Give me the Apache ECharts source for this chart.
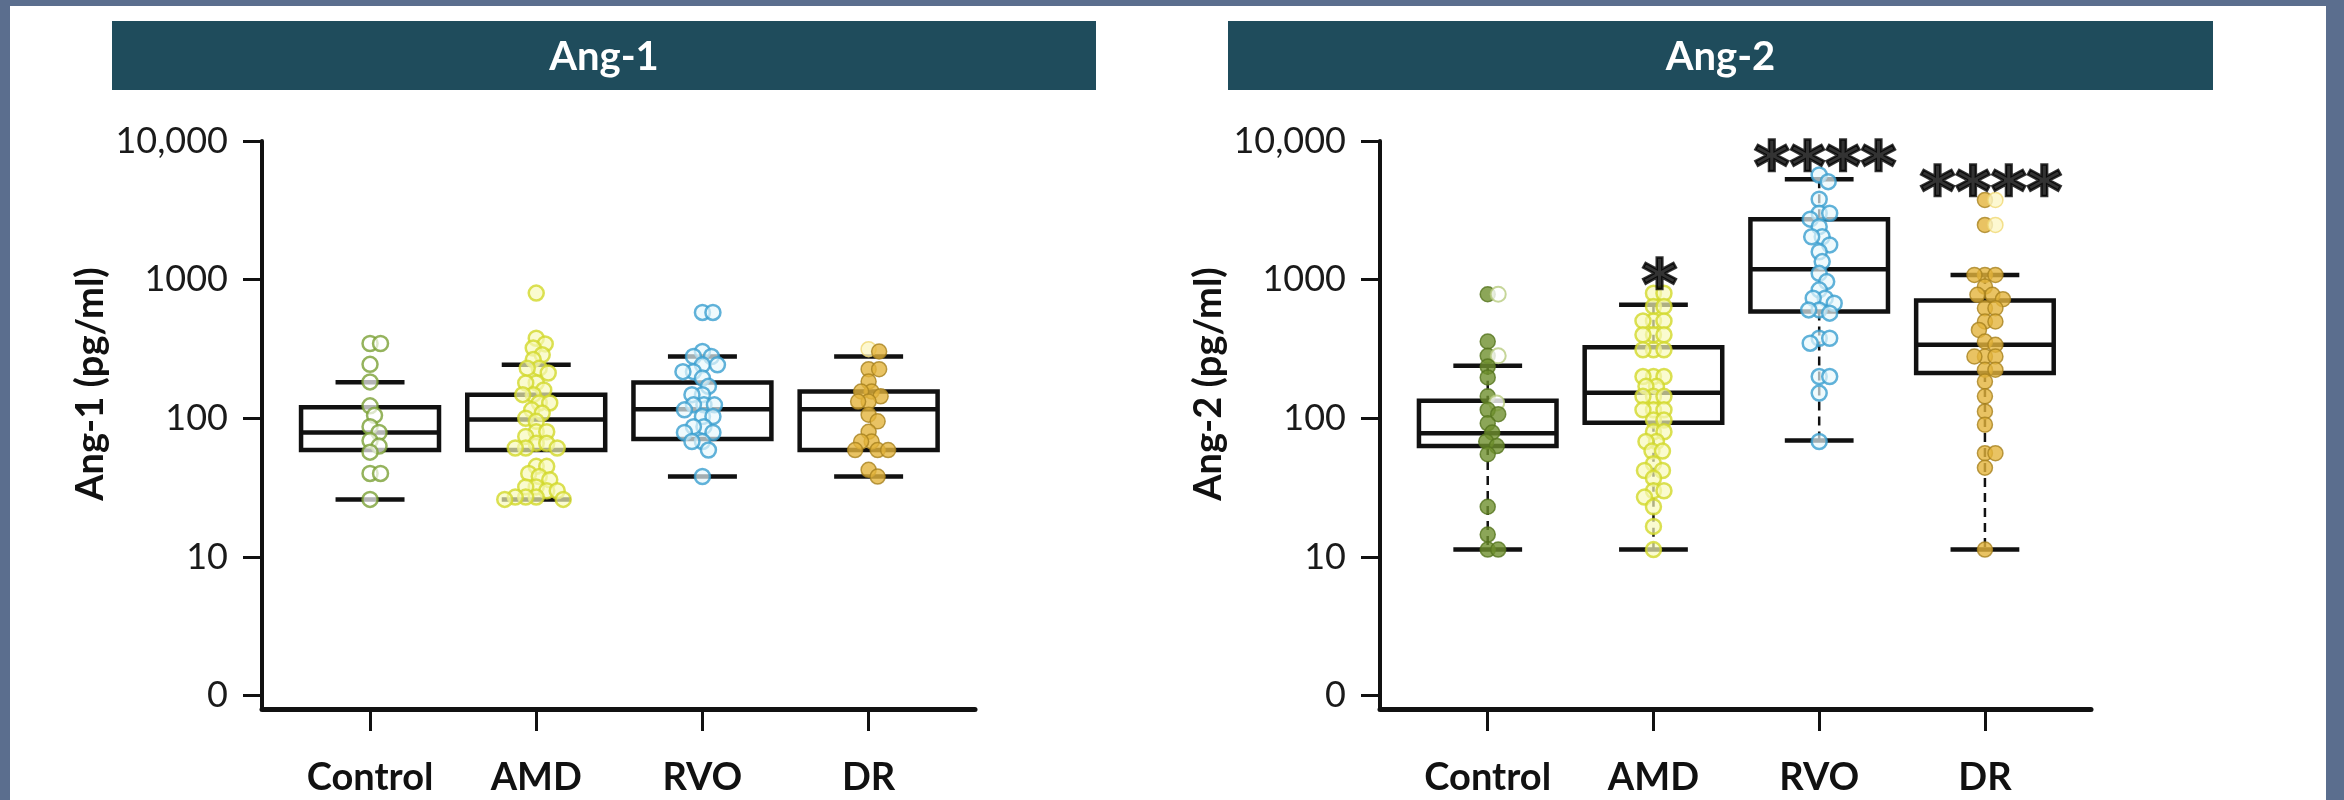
<!DOCTYPE html>
<html>
<head>
<meta charset="utf-8">
<title>Ang-1 / Ang-2</title>
<script src="https://cdn.jsdelivr.net/npm/echarts@6/dist/echarts.min.js"></script>
<style>
  html, body { margin: 0; padding: 0; background: #5b6e8e; }
  #paper { position: absolute; left: 10px; top: 6px; width: 2316px; height: 794px; background: #fff; }
  #chart { position: absolute; left: 0; top: 0; width: 2344px; height: 800px; }
</style>
</head>
<body>
<div id="paper"></div>
<div id="chart"></div>
<script>
// categories and axis ticks
const groups = ["Control", "AMD", "RVO", "DR"];
const yTickValues = [1, 10, 100, 1000, 10000];
const yTickLabels = ["0", "10", "100", "1000", "10,000"];

// box stats per group: [lower whisker, Q1, median, Q3, upper whisker] (pg/ml)
const ang1Box = [
  [26, 59, 79, 120, 182],
  [26, 59, 98, 148, 243],
  [38, 71, 116, 181, 279],
  [38, 59, 116, 156, 279],
];
const ang2Box = [
  [11.3, 63, 78, 134, 239],
  [11.3, 93, 153, 326, 658],
  [69, 589, 1189, 2728, 5296],
  [11.3, 212, 339, 706, 1082],
];

// individual samples, Ang-1
const ang1Control = [346, 346, 245, 183, 123, 105, 87, 79, 69, 63, 57, 40, 40, 26];
const ang1AMD = [800, 378, 344, 321, 287, 265, 230, 230, 212, 180, 180, 160, 148, 148, 129, 129, 115, 109, 100, 95,
  80, 80, 74, 66, 66, 61, 61, 61, 45, 45, 40, 38, 36, 32, 32, 30, 30, 27, 27, 27, 26, 26];
const ang1RVO = [580, 580, 303, 279, 279, 243, 243, 217, 217, 195, 170, 148, 148, 125, 125, 125, 115, 103, 103,
  87, 87, 79, 79, 68, 68, 59, 38];
const ang1DR = [303, 226, 226, 184, 156, 156, 144, 132, 132, 106, 95, 80, 68, 68, 59, 59, 59, 42.5, 38];
const ang1DRPale = [315];

// individual samples, Ang-2
const ang2Control = [785, 358, 282, 236, 197, 144, 115, 107, 92, 79, 68, 63, 55, 23, 14.5, 11.3, 11.3];
const ang2ControlOpen = [785, 282, 129];
const ang2AMD = [798, 798, 640, 640, 504, 504, 504, 400, 400, 400, 312, 312, 312, 200, 200, 200, 170, 170,
  144, 144, 144, 115, 115, 115, 97, 97, 80, 80, 68, 68, 58, 58, 47, 42, 42, 37, 30, 30, 27, 23, 16.6, 11.3];
const ang2RVO = [5690, 5090, 3800, 3010, 3010, 2730, 2410, 2040, 2040, 1780, 1590, 1350, 1110, 968, 844, 735,
  735, 676, 605, 605, 573, 378, 378, 348, 200, 200, 152, 68];
const ang2DR = [3757, 2482, 1082, 1082, 1082, 891, 777, 777, 723, 622, 622, 499, 499, 434, 358, 339, 279, 279,
  279, 224, 224, 184, 144, 112, 90, 56, 56, 44, 11.3];
const ang2DRPale = [3757, 2482];
const ang2Signif = ["", "*", "****", "****"];

// layout
const Y_MIN = 0.8;
const Y_MAX = 10000;
const X_MIN = 0.35;
const X_MAX = 4.64;
const GRID_TOP = 141;
const GRID_H = 568;
const DOT = 15;
const BOX_W = 0.83;
const CAP_W = 0.415;
const FONT = "Lato, 'Open Sans', sans-serif";

const dotStyles = {
  controlOpen: { color: "rgba(255,255,255,0.85)", borderColor: "#7aa035", borderWidth: 2.5 },
  controlFill: { color: "#6f902e", borderColor: "#56751f", borderWidth: 1.5 },
  controlPale: { color: "#ffffff", borderColor: "#b8cc80", borderWidth: 2 },
  amd: { color: "rgba(247,249,185,0.85)", borderColor: "#d2d82b", borderWidth: 2.5 },
  rvo: { color: "rgba(232,247,252,0.85)", borderColor: "#3a9fd0", borderWidth: 2.5 },
  dr: { color: "#e4b43c", borderColor: "#a8821f", borderWidth: 1.5 },
  drPale: { color: "#fdf6c6", borderColor: "#f0d874", borderWidth: 1.5 },
};

const panels = [
  {
    title: "Ang-1", yName: "Ang-1 (pg/ml)", box: ang1Box, dashed: false,
    left: 262, width: 713, headerX: 112, headerW: 984,
    samples: [
      [[ang1Control, "controlOpen"]],
      [[ang1AMD, "amd"]],
      [[ang1RVO, "rvo"]],
      [[ang1DR, "dr"], [ang1DRPale, "drPale"]],
    ],
    signif: null,
  },
  {
    title: "Ang-2", yName: "Ang-2 (pg/ml)", box: ang2Box, dashed: true,
    left: 1380, width: 711, headerX: 1228, headerW: 985,
    samples: [
      [[ang2Control, "controlFill"], [ang2ControlOpen, "controlPale"]],
      [[ang2AMD, "amd"]],
      [[ang2RVO, "rvo"]],
      [[ang2DR, "dr"], [ang2DRPale, "drPale"]],
    ],
    signif: ang2Signif,
  },
];

// simple deterministic beeswarm: spread overlapping dots sideways (in pixels)
function swarm(points, pxPerX, pxPerDec) {
  const minD = DOT * 0.68;
  const placed = [];
  points.slice().sort((a, b) => b.v - a.v).forEach((p) => {
    const py = Math.log10(p.v) * pxPerDec;
    let off = 0;
    for (let k = 0; k < 400; k++) {
      const c = k === 0 ? 0 : (k % 2 ? 1 : -1) * Math.ceil(k / 2) * 1.5;
      const free = placed.every((q) => (q.px - c) ** 2 + (q.py - py) ** 2 >= minD * minD);
      if (free) { off = c; break; }
    }
    placed.push({ px: off, py: py, v: p.v, kind: p.kind });
  });
  return placed.map((q) => ({ dx: q.px / pxPerX, v: q.v, kind: q.kind }));
}

function boxRenderer(dashed) {
  return function (params, api) {
    const x = api.value(0);
    const pt = (v, dx) => api.coord([x + (dx || 0), v]);
    const lo = pt(api.value(1));
    const q1 = pt(api.value(2));
    const med = pt(api.value(3));
    const q3 = pt(api.value(4));
    const hi = pt(api.value(5));
    const half = (pt(api.value(3), BOX_W / 2)[0] - med[0]);
    const capHalf = (pt(api.value(3), CAP_W / 2)[0] - med[0]);
    const cx = med[0];
    const stroke = { stroke: "#111", lineWidth: 4.5, fill: null };
    const children = [];
    if (dashed) {
      const dash = { stroke: "#111", lineWidth: 2.5, lineDash: [9, 6] };
      children.push({ type: "line", shape: { x1: cx, y1: hi[1], x2: cx, y2: q3[1] }, style: dash });
      children.push({ type: "line", shape: { x1: cx, y1: q1[1], x2: cx, y2: lo[1] }, style: dash });
    }
    children.push({ type: "rect", shape: { x: cx - half, y: q3[1], width: half * 2, height: q1[1] - q3[1] }, style: stroke });
    children.push({ type: "line", shape: { x1: cx - half, y1: med[1], x2: cx + half, y2: med[1] }, style: stroke });
    children.push({ type: "line", shape: { x1: cx - capHalf, y1: hi[1], x2: cx + capHalf, y2: hi[1] }, style: stroke });
    children.push({ type: "line", shape: { x1: cx - capHalf, y1: lo[1], x2: cx + capHalf, y2: lo[1] }, style: stroke });
    return { type: "group", children: children };
  };
}

const grid = [];
const xAxis = [];
const yAxis = [];
const series = [];
const graphic = [];

panels.forEach((p, pi) => {
  grid.push({ left: p.left, top: GRID_TOP, width: p.width, height: GRID_H });

  xAxis.push({
    type: "value",
    gridIndex: pi,
    min: X_MIN,
    max: X_MAX,
    splitLine: { show: false },
    axisLine: { onZero: false, lineStyle: { color: "#111", width: 5 } },
    axisTick: { customValues: [1, 2, 3, 4], length: 22, lineStyle: { color: "#111", width: 3 } },
    axisLabel: {
      customValues: [1, 2, 3, 4],
      formatter: (v) => groups[Math.round(v) - 1],
      margin: 50,
      color: "#111",
      fontFamily: FONT,
      fontWeight: "bold",
      fontSize: 38,
    },
  });

  yAxis.push({
    type: "log",
    logBase: 10,
    gridIndex: pi,
    min: Y_MIN,
    max: Y_MAX,
    name: p.yName,
    nameLocation: "middle",
    nameGap: 152,
    nameTextStyle: {
      color: "#111",
      fontFamily: FONT,
      fontWeight: "bold",
      fontSize: 38,
      padding: [0, 0, 0, 82],
    },
    splitLine: { show: false },
    axisLine: { show: true, lineStyle: { color: "#111", width: 4 } },
    axisTick: { customValues: yTickValues, length: 19, lineStyle: { color: "#111", width: 3 } },
    axisLabel: {
      customValues: yTickValues,
      formatter: (v) => yTickLabels[Math.round(Math.log10(v))],
      margin: 34,
      color: "#1a1a1a",
      fontFamily: FONT,
      fontSize: 36,
    },
  });

  series.push({
    type: "custom",
    name: p.title + " box",
    xAxisIndex: pi,
    yAxisIndex: pi,
    z: 2,
    silent: true,
    data: p.box.map((s, i) => [i + 1].concat(s)),
    encode: { x: 0, y: [1, 2, 3, 4, 5] },
    renderItem: boxRenderer(p.dashed),
  });

  const pxPerX = p.width / (X_MAX - X_MIN);
  const pxPerDec = GRID_H / (Math.log10(Y_MAX) - Math.log10(Y_MIN));
  const dots = [];
  p.samples.forEach((sets, gi) => {
    const pts = [];
    sets.forEach(([vals, kind]) => vals.forEach((v) => pts.push({ v: v, kind: kind })));
    swarm(pts, pxPerX, pxPerDec).forEach((d) => {
      dots.push({ value: [gi + 1 + d.dx, d.v], itemStyle: dotStyles[d.kind] });
    });
  });
  series.push({
    type: "scatter",
    name: p.title,
    xAxisIndex: pi,
    yAxisIndex: pi,
    z: 3,
    silent: true,
    symbol: "circle",
    symbolSize: DOT,
    data: dots,
  });

  if (p.signif) {
    const marks = [];
    p.samples.forEach((sets, gi) => {
      if (!p.signif[gi]) return;
      let top = 0;
      sets.forEach(([vals]) => vals.forEach((v) => { top = Math.max(top, v); }));
      marks.push({ value: [gi + 1, top], name: p.signif[gi] });
    });
    series.push({
      type: "scatter",
      name: p.title + " significance",
      xAxisIndex: pi,
      yAxisIndex: pi,
      z: 4,
      silent: true,
      symbolSize: 0,
      data: marks,
      label: {
        show: true,
        position: "inside",
        offset: [6, -3],
        formatter: (d) => d.name,
        color: "#000",
        textBorderColor: "#000",
        textBorderWidth: 2.5,
        fontFamily: "'DejaVu Sans', sans-serif",
        fontWeight: "bold",
        fontSize: 68,
      },
    });
  }

  graphic.push({
    type: "rect",
    shape: { x: p.headerX, y: 21, width: p.headerW, height: 69 },
    style: { fill: "#1f4c5c" },
  });
  graphic.push({
    type: "text",
    x: p.headerX + p.headerW / 2,
    y: 57,
    style: {
      text: p.title,
      fill: "#ffffff",
      fontFamily: FONT,
      fontWeight: "bold",
      fontSize: 40,
      align: "center",
      verticalAlign: "middle",
    },
  });
});

const chart = echarts.init(document.getElementById("chart"));
chart.setOption({
  backgroundColor: "transparent",
  animation: false,
  grid: grid,
  xAxis: xAxis,
  yAxis: yAxis,
  series: series,
  graphic: graphic,
});
window.addEventListener("resize", () => chart.resize());
</script>
</body>
</html>
